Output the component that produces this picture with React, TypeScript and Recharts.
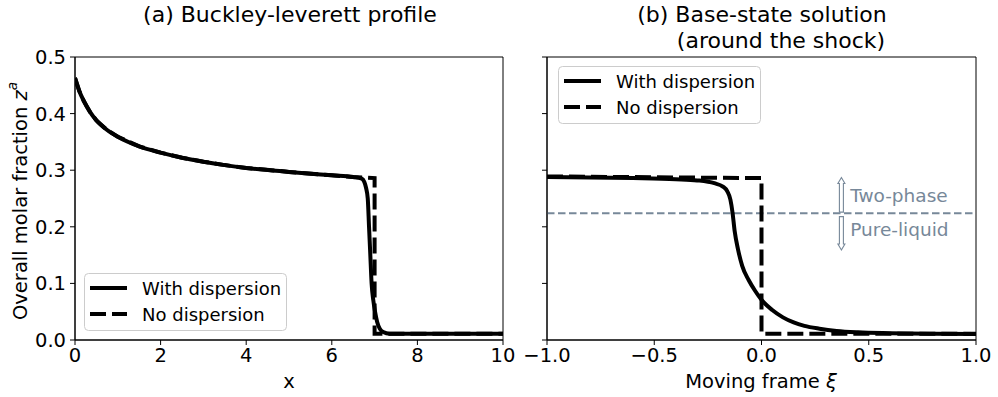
import React from "react";
import { Line, LineChart, ReferenceArea, ReferenceDot, ReferenceLine, XAxis, YAxis } from "recharts";

const FONT = "'DejaVu Sans', sans-serif";
const SLATE = "#778899";
const DASH = "16 6";
const TICK_FS = 19.5;
const TITLE_FS = 22;

// (a) Buckley-Leverett profile, x in [0, 10]
const profileX = [0, 0.1, 0.2, 0.35, 0.5, 0.75, 1, 1.5, 2, 2.5, 3, 3.5, 4, 5, 6, 6.5, 6.7, 6.76, 6.8, 6.84, 6.87, 6.9, 6.93, 6.97, 7.01, 7.06, 7.12, 7.2, 7.35, 8, 9, 10];
const profileWith = [0.463, 0.44, 0.423, 0.403, 0.388, 0.371, 0.359, 0.342, 0.331, 0.322, 0.315, 0.309, 0.304, 0.297, 0.291, 0.288, 0.285, 0.279, 0.269, 0.25, 0.2, 0.15, 0.1, 0.07, 0.05, 0.032, 0.02, 0.014, 0.011, 0.011, 0.011, 0.011];
const profileNoX = [0, 0.1, 0.2, 0.35, 0.5, 0.75, 1, 1.5, 2, 2.5, 3, 3.5, 4, 5, 6, 6.5, 7, 7, 10];
const profileNo = [0.463, 0.44, 0.423, 0.403, 0.388, 0.371, 0.359, 0.342, 0.331, 0.322, 0.315, 0.309, 0.304, 0.297, 0.291, 0.288, 0.286, 0.011, 0.011];

// (b) base state around the shock, moving frame xi in [-1, 1]
const shockX = [-1, -0.6, -0.4, -0.3, -0.22, -0.18, -0.16, -0.145, -0.135, -0.125, -0.11, -0.09, -0.06, -0.03, 0, 0.05, 0.1, 0.15, 0.2, 0.27, 0.35, 0.45, 0.6, 0.8, 1];
const shockWith = [0.288, 0.286, 0.284, 0.282, 0.277, 0.271, 0.263, 0.248, 0.225, 0.192, 0.161, 0.131, 0.106, 0.087, 0.071, 0.053, 0.04, 0.031, 0.025, 0.02, 0.016, 0.0135, 0.012, 0.011, 0.0105];
const shockNoX = [-1, 0, 0, 1];
const shockNo = [0.289, 0.286, 0.011, 0.011];

const phaseBoundary = 0.224;

const profileTicks = [0, 2, 4, 6, 8, 10];
const shockTicks = [-1, -0.5, 0, 0.5, 1];
const yTicks = [0, 0.1, 0.2, 0.3, 0.4, 0.5];

const zip = (xs: number[], ys: number[]) => xs.map((x, i) => ({ x, y: ys[i] }));

const tickStyle = { fill: "#000", fontSize: TICK_FS, fontFamily: FONT };
const fmtSigned = (v: number) => (v < 0 ? "\u2212" + Math.abs(v).toFixed(1) : v.toFixed(1));

const arrowShape = (dir: "up" | "down") => (props: any) => {
  const { x, y, width, height } = props;
  const cx = x + width / 2;
  const hw = 3.5;
  const sw = 2;
  const hl = 6;
  let d: string;
  if (dir === "up") {
    d = `M${cx},${y} L${cx + hw},${y + hl} L${cx + sw},${y + hl} L${cx + sw},${y + height} L${cx - sw},${y + height} L${cx - sw},${y + hl} L${cx - hw},${y + hl} Z`;
  } else {
    const b = y + height;
    d = `M${cx},${b} L${cx + hw},${b - hl} L${cx + sw},${b - hl} L${cx + sw},${y} L${cx - sw},${y} L${cx - sw},${b - hl} L${cx - hw},${b - hl} Z`;
  }
  return <path d={d} fill="#fff" stroke={SLATE} strokeWidth={1.1} />;
};

function LegendBox({ x, y }: { x: number; y: number }) {
  return (
    <g>
      <rect x={x + 0.5} y={y + 0.5} width={202} height={57} rx={4} fill="#fff" fillOpacity={0.8} stroke="#cccccc" />
      <line x1={x + 6} x2={x + 43} y1={y + 15} y2={y + 15} stroke="#000" strokeWidth={4} />
      <line x1={x + 6} x2={x + 43} y1={y + 41} y2={y + 41} stroke="#000" strokeWidth={4} strokeDasharray={DASH} />
      <text x={x + 58} y={y + 15} dominantBaseline="central" fontSize={18} fontFamily={FONT}>With dispersion</text>
      <text x={x + 58} y={y + 41} dominantBaseline="central" fontSize={18} fontFamily={FONT}>No dispersion</text>
    </g>
  );
}

export default function App() {
  return (
    <div style={{ position: "absolute", left: 0, top: 0, width: 998, height: 397, background: "#fff" }}>
      <div style={{ position: "absolute", left: 0, top: 0 }}>
        <LineChart width={520} height={397} margin={{ top: 57, right: 17, bottom: 0, left: 0 }}>
          <XAxis
            type="number"
            dataKey="x"
            domain={[0, 10]}
            ticks={profileTicks}
            allowDataOverflow
            height={57}
            tickSize={5}
            tickMargin={3}
            stroke="#000"
            tick={tickStyle}
            label={{ value: "x", position: "insideBottom", offset: 9, fill: "#000", fontSize: TICK_FS, fontFamily: FONT }}
          />
          <YAxis
            type="number"
            dataKey="y"
            domain={[0, 0.5]}
            ticks={yTicks}
            allowDataOverflow
            width={75}
            tickSize={5}
            tickMargin={4}
            stroke="#000"
            tick={tickStyle}
            tickFormatter={(v: number) => v.toFixed(1)}
          />
          <ReferenceArea x1={0} x2={10} y1={0} y2={0.5} fill="none" stroke="#000" strokeWidth={1} ifOverflow="visible" />
          <Line data={zip(profileX, profileWith)} dataKey="y" type="monotone" stroke="#000" strokeWidth={4} dot={false} isAnimationActive={false} />
          <Line data={zip(profileNoX, profileNo)} dataKey="y" type="linear" stroke="#000" strokeWidth={4} strokeDasharray={DASH} dot={false} isAnimationActive={false} />
        </LineChart>
      </div>
      <div style={{ position: "absolute", left: 520, top: 0 }}>
        <LineChart width={478} height={397} margin={{ top: 57, right: 22, bottom: 0, left: 0 }}>
          <XAxis
            type="number"
            dataKey="x"
            domain={[-1, 1]}
            ticks={shockTicks}
            allowDataOverflow
            height={57}
            tickSize={5}
            tickMargin={3}
            stroke="#000"
            tick={tickStyle}
            tickFormatter={fmtSigned}
          />
          <YAxis
            type="number"
            dataKey="y"
            domain={[0, 0.5]}
            ticks={yTicks}
            allowDataOverflow
            width={27}
            tickSize={5}
            tickMargin={4}
            stroke="#000"
            tick={tickStyle}
            tickFormatter={() => ""}
          />
          <ReferenceArea x1={-1} x2={1} y1={0} y2={0.5} fill="none" stroke="#000" strokeWidth={1} ifOverflow="visible" />
          <ReferenceLine y={phaseBoundary} stroke={SLATE} strokeWidth={2} strokeDasharray="7.5 3.5" />
          <ReferenceArea x1={0.355} x2={0.39} y1={0.226} y2={0.287} shape={arrowShape("up")} ifOverflow="visible" />
          <ReferenceArea x1={0.355} x2={0.39} y1={0.159} y2={0.218} shape={arrowShape("down")} ifOverflow="visible" />
          <ReferenceDot x={0.39} y={0.256} r={0} fill="none" stroke="none" label={{ value: "Two-phase", position: "right", offset: 5, fill: SLATE, fontSize: 18.5, fontFamily: FONT }} />
          <ReferenceDot x={0.39} y={0.195} r={0} fill="none" stroke="none" label={{ value: "Pure-liquid", position: "right", offset: 5, fill: SLATE, fontSize: 18.5, fontFamily: FONT }} />
          <Line data={zip(shockX, shockWith)} dataKey="y" type="monotone" stroke="#000" strokeWidth={4} dot={false} isAnimationActive={false} />
          <Line data={zip(shockNoX, shockNo)} dataKey="y" type="linear" stroke="#000" strokeWidth={4} strokeDasharray={DASH} dot={false} isAnimationActive={false} />
        </LineChart>
      </div>
      <svg width={998} height={397} style={{ position: "absolute", left: 0, top: 0, pointerEvents: "none" }}>
        <text x={290} y={22} textAnchor="middle" fontSize={TITLE_FS} fontFamily={FONT}>(a) Buckley-leverett profile</text>
        <text x={762} y={22} textAnchor="middle" fontSize={TITLE_FS} fontFamily={FONT}>(b) Base-state solution</text>
        <text x={781} y={48} textAnchor="middle" fontSize={TITLE_FS} fontFamily={FONT}>(around the shock)</text>
        <text x={761} y={388} textAnchor="middle" fontSize={TICK_FS} fontFamily={FONT}>
          Moving frame <tspan fontStyle="italic">{"\u03be"}</tspan>
        </text>
        <text x={20} y={201} transform="rotate(-90 20 201)" textAnchor="middle" dominantBaseline="central" fontSize={TICK_FS} fontFamily={FONT}>
          Overall molar fraction <tspan fontStyle="italic">z</tspan>
          <tspan fontStyle="italic" fontSize={13.5} dy={-8}>a</tspan>
        </text>
        <LegendBox x={84} y={273} />
        <LegendBox x={558} y={66} />
      </svg>
    </div>
  );
}
